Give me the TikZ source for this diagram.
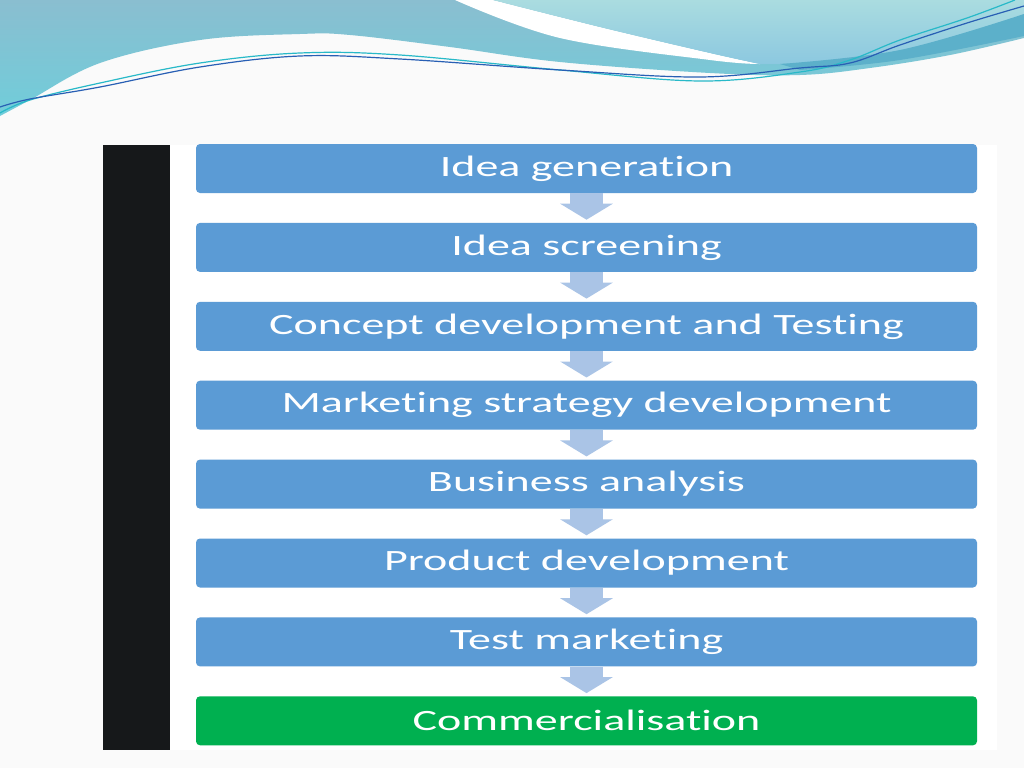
\documentclass[tikz,border=0pt]{standalone}
\usepackage{fontspec}
\usepackage{xcolor}
\usepackage{tikz}
\usetikzlibrary{positioning,arrows.meta}
\newfontfamily\stagefont[FakeStretch=1.56, Ligatures=NoCommon]{Carlito}
\definecolor{stage-blue}{RGB}{91,155,213}
\definecolor{stage-green}{RGB}{0,176,80}
\definecolor{flow-blue}{RGB}{170,196,230}
\definecolor{bar-black}{RGB}{22,24,26}
\definecolor{page-gray}{RGB}{250,250,250}
\definecolor{wave-top}{RGB}{138,190,208}
\definecolor{wave-low}{RGB}{112,205,218}
\definecolor{wave-light}{RGB}{170,220,224}
\definecolor{wave-lightlow}{RGB}{140,200,224}
\definecolor{wave-dark}{RGB}{92,176,202}
\definecolor{line-teal}{RGB}{40,185,200}
\definecolor{line-blue}{RGB}{40,95,180}

\begin{document}
\begin{tikzpicture}[
    x=1pt, y=-1pt,
    node distance=29.5pt,
    stage/.style={rectangle, rounded corners=4pt, fill=stage-blue, text=white, minimum width=781pt, minimum height=49pt, inner sep=0pt, font=\stagefont\fontsize{29.5}{30}\selectfont},
    final/.style={stage, fill=stage-green},
    flow/.style={-{Triangle[width=52pt, length=16pt]}, line width=33pt, draw=flow-blue, shorten >=3pt}
]

% Page
\useasboundingbox (0,0) rectangle (1024,768);
\fill[page-gray] (0,0) rectangle (1024,768);

% Wave at the top
\shade[top color=wave-top, bottom color=wave-low] (0,0) -- plot[smooth, tension=0.6] coordinates {(0,116) (30,100) (100,63) (200,40) (300,34) (350,35) (450,47) (560,62) (710,73) (800,75) (870,68) (950,55) (1024,38)} -- (1024,0) -- cycle;
\fill[white] plot[smooth, tension=0.6] coordinates {(455,0) (560,38) (710,60) (760,64)} -- plot[smooth, tension=0.6] coordinates {(760,64) (710,53) (600,27) (493,0)} -- cycle;
\shade[top color=wave-light, bottom color=wave-lightlow] plot[smooth, tension=0.6] coordinates {(493,0) (600,27) (710,53) (760,64)} -- plot[smooth, tension=0.6] coordinates {(760,64) (850,60) (950,40) (1024,14)} -- (1024,0) -- cycle;
\fill[wave-dark] plot[smooth, tension=0.6] coordinates {(780,64) (900,50) (1024,14)} -- (1024,36) -- plot[smooth, tension=0.6] coordinates {(1024,36) (900,60) (800,70)} -- cycle;
\draw[line-teal, line width=1.2pt] plot[smooth, tension=0.6] coordinates {(0,113) (30,100) (100,83) (200,63) (300,53) (400,55) (560,70) (700,81) (800,72) (850,60) (900,40) (967,18) (1015,0)};
\draw[line-blue, line width=1.2pt] plot[smooth, tension=0.6] coordinates {(0,107) (30,99) (100,87) (200,67) (300,56) (400,59) (560,70) (700,77) (800,68) (850,63) (900,45) (967,23) (1024,6)};

% Panel
\fill[white] (170,145) rectangle (997,750);
\fill[bar-black] (103,145) rectangle (170,750);

% Stages
\node[stage] (idea) at (586.5,168.5) {Idea generation};
\node[stage, below=of idea] (screening) {Idea screening};
\node[stage, below=of screening] (concept) {Concept development and Testing};
\node[stage, below=of concept] (strategy) {Marketing strategy development};
\node[stage, below=of strategy] (analysis) {Business analysis};
\node[stage, below=of analysis] (product) {Product development};
\node[stage, below=of product] (testing) {Test marketing};
\node[final, below=of testing] (commercial) {Commercialisation};

% Arrows
\draw[flow] (idea) -- (screening);
\draw[flow] (screening) -- (concept);
\draw[flow] (concept) -- (strategy);
\draw[flow] (strategy) -- (analysis);
\draw[flow] (analysis) -- (product);
\draw[flow] (product) -- (testing);
\draw[flow] (testing) -- (commercial);

\end{tikzpicture}
\end{document}
